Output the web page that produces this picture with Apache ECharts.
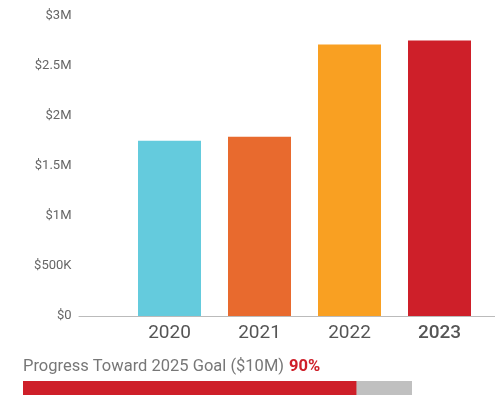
<!DOCTYPE html>
<html>
<head>
<meta charset="utf-8">
<script src="https://cdn.jsdelivr.net/npm/echarts@6/dist/echarts.min.js"></script>
<style>
  html, body { margin: 0; padding: 0; background: #fff; }
  #chart { width: 495px; height: 395px; }
</style>
</head>
<body>
<div id="chart"></div>
<script>
// Annual funds raised, in dollars
const years = ['2020', '2021', '2022', '2023'];
const raised = [1750000, 1790000, 2710000, 2750000];
const barColors = ['#64CBDD', '#E86A2E', '#F9A022', '#CE1F29'];
const yTicks = [0, 500000, 1000000, 1500000, 2000000, 2500000, 3000000];

// Progress toward the 2025 goal
const goalLabel = 'Progress Toward 2025 Goal ($10M)';
const goalPct = [90];

const FONT = 'Roboto, "Noto Sans", sans-serif';

function money(v) {
  if (v === 0) return '$0';
  if (v >= 1000000) return '$' + (v / 1000000) + 'M';
  return '$' + (v / 1000) + 'K';
}

const chart = echarts.init(document.getElementById('chart'), null, { renderer: 'canvas' });

chart.setOption({
  animation: false,
  backgroundColor: '#fff',
  title: {
    left: 23,
    top: 358,
    padding: 0,
    text: '{t|' + goalLabel + '} {p|' + goalPct[0] + '%}',
    textStyle: {
      fontWeight: 'normal',
      rich: {
        t: { fontFamily: FONT, fontSize: 16.5, color: '#777', fontWeight: 'normal' },
        p: { fontFamily: FONT, fontSize: 16.5, color: '#CE1F29', fontWeight: 'bold' }
      }
    }
  },
  grid: [
    { left: 124.5, right: 10.5, top: 15.5, bottom: 79 },
    { left: 79, right: 0, top: 15.5, bottom: 79 },
    { left: 23, width: 389, top: 381, height: 14 }
  ],
  xAxis: [
    {
      type: 'category',
      gridIndex: 0,
      data: years.map((y, i) => i === years.length - 1
        ? { value: y, textStyle: { fontWeight: 500 } }
        : y),
      axisLine: { show: false },
      axisTick: { show: false },
      axisLabel: { fontFamily: FONT, fontSize: 19, color: '#555', margin: 8 }
    },
    {
      type: 'value',
      gridIndex: 1,
      axisLine: { show: true, onZero: false, lineStyle: { color: '#bbb', width: 1 } },
      axisTick: { show: false },
      axisLabel: { show: false },
      splitLine: { show: false }
    },
    {
      type: 'value',
      gridIndex: 2,
      min: 0,
      max: 105,
      show: false
    }
  ],
  yAxis: [
    {
      type: 'value',
      gridIndex: 0,
      min: yTicks[0],
      max: yTicks[yTicks.length - 1],
      interval: yTicks[1] - yTicks[0],
      axisLine: { show: false },
      axisTick: { show: false },
      splitLine: { show: false },
      axisLabel: {
        fontFamily: FONT, fontSize: 13, color: '#666', margin: 53,
        formatter: money
      }
    },
    { type: 'value', gridIndex: 1, show: false },
    { type: 'category', gridIndex: 2, data: ['goal'], show: false }
  ],
  series: [
    {
      type: 'bar',
      xAxisIndex: 0,
      yAxisIndex: 0,
      barWidth: 63,
      data: raised.map((v, i) => ({ value: v, itemStyle: { color: barColors[i] } }))
    },
    {
      type: 'bar',
      xAxisIndex: 2,
      yAxisIndex: 2,
      barWidth: 14,
      showBackground: true,
      backgroundStyle: { color: '#C0C0C0' },
      itemStyle: { color: '#CE1F29' },
      data: goalPct
    }
  ]
});
</script>
</body>
</html>
